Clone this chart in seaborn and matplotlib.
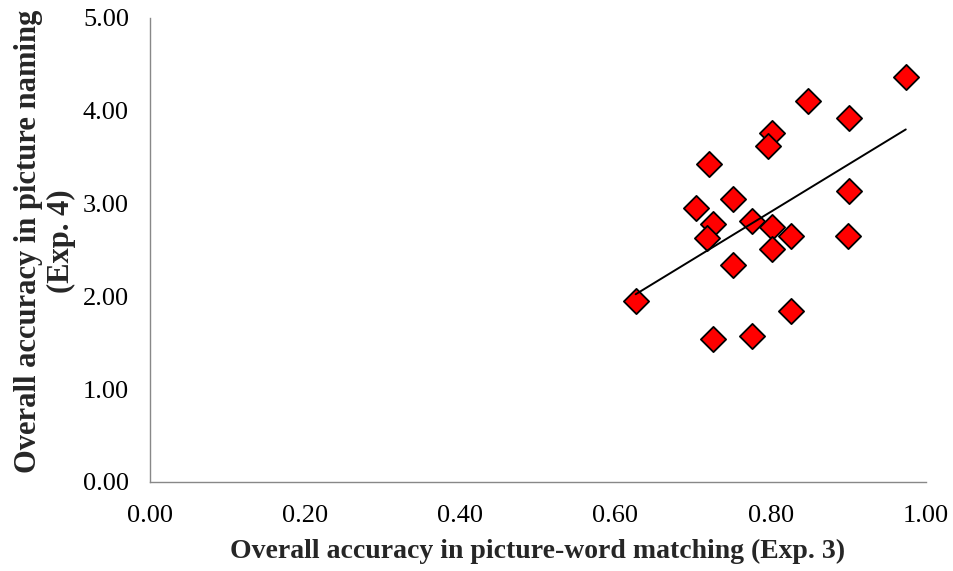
import matplotlib
matplotlib.use("Agg")
import matplotlib.pyplot as plt
import seaborn as sns
import pandas as pd
import numpy as np

matching = [0.974, 0.848, 0.901, 0.802, 0.796, 0.720, 0.901, 0.751, 0.704, 0.726,
            0.776, 0.802, 0.826, 0.899, 0.718, 0.802, 0.751, 0.626, 0.826, 0.726, 0.776]
naming = [4.36, 4.10, 3.92, 3.76, 3.62, 3.43, 3.13, 3.05, 2.95, 2.78,
          2.81, 2.75, 2.655, 2.655, 2.63, 2.51, 2.34, 1.95, 1.84, 1.545, 1.576]

x_ticks = [0.0, 0.2, 0.4, 0.6, 0.8, 1.0]
y_ticks = [0.0, 1.0, 2.0, 3.0, 4.0, 5.0]
x_label = "Overall accuracy in picture-word matching (Exp. 3)"
y_label = "Overall accuracy in picture naming\n(Exp. 4)"

df = pd.DataFrame({"matching": matching, "naming": naming})

sns.set_style("white")
plt.rcParams["font.family"] = ["Liberation Serif", "DejaVu Serif"]

fig = plt.figure(figsize=(9.54, 5.71), dpi=100)
ax = fig.add_axes([0.157, 0.156, 0.8136, 0.8125])

sns.scatterplot(data=df, x="matching", y="naming", marker="D", s=165,
                color="#ff0000", edgecolor="black", linewidth=1.3, ax=ax, zorder=2)
sns.regplot(data=df, x="matching", y="naming", scatter=False, ci=None, truncate=True,
            line_kws={"color": "black", "linewidth": 1.4, "zorder": 3}, ax=ax)

ax.set_xlim(0, 1.0)
ax.set_ylim(0, 5.0)
ax.set_xticks(x_ticks)
ax.set_yticks(y_ticks)
ax.set_xticklabels([f"{v:.2f}" for v in x_ticks], fontsize=19)
ax.set_yticklabels([f"{v:.2f}" for v in y_ticks], fontsize=19)
ax.set_xlabel(x_label, fontsize=20, fontweight="bold", labelpad=9)
ax.set_ylabel(y_label, fontsize=22, fontweight="bold", labelpad=5, linespacing=1.15)
ax.yaxis.label.set_y(0.519)

for side in ["top", "right"]:
    ax.spines[side].set_visible(False)
for side in ["left", "bottom"]:
    ax.spines[side].set_color("#888888")
    ax.spines[side].set_linewidth(1.0)
ax.tick_params(axis="both", direction="out", length=5, width=1.0, color="#888888",
               labelcolor="black")
ax.tick_params(axis="y", pad=10)
ax.tick_params(axis="x", pad=11.5)
ax.grid(False)

fig.savefig("out.png", dpi=100)
